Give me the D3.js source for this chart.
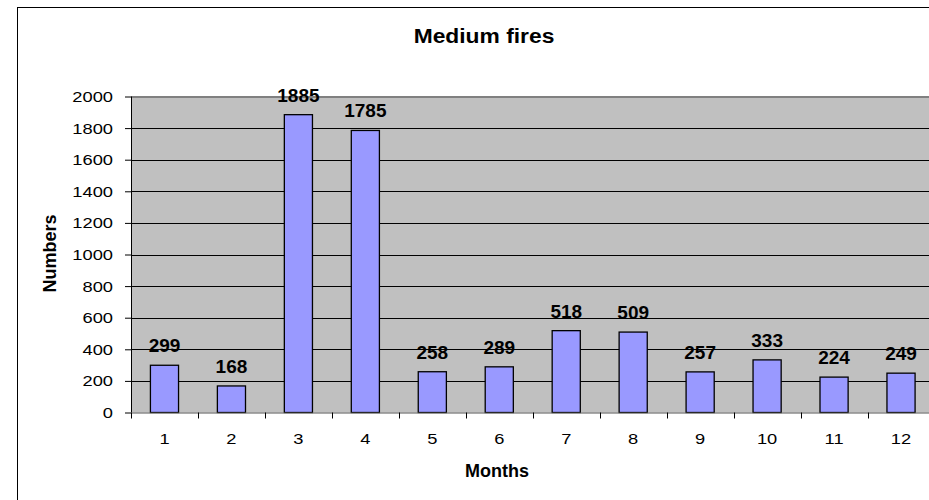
<!DOCTYPE html>
<html>
<head>
<meta charset="utf-8">
<script src="https://cdn.jsdelivr.net/npm/d3@7"></script>
<style>
  body { margin: 0; background: #fff; }
  text { font-family: "Liberation Sans", Arial, sans-serif; fill: #000; }
</style>
</head>
<body>
<div id="chart"></div>
<script>
/* data */
var months = ["1", "2", "3", "4", "5", "6", "7", "8", "9", "10", "11", "12"];
var fires = [299, 168, 1885, 1785, 258, 289, 518, 509, 257, 333, 224, 249];
var yTicks = [0, 200, 400, 600, 800, 1000, 1200, 1400, 1600, 1800, 2000];

var width = 929;
var height = 500;

var svg = d3.select("#chart").append("svg")
    .attr("width", width)
    .attr("height", height);

// chart area border (runs off the right and bottom of the picture)
svg.append("rect")
    .attr("x", 17.5)
    .attr("y", 7.5)
    .attr("width", 960)
    .attr("height", 520)
    .attr("fill", "#fff")
    .attr("stroke", "#000");

var plot = { left: 131, top: 96.5, right: 934.5, bottom: 412.5 };

var x = d3.scaleBand()
    .domain(months)
    .range([plot.left, plot.right])
    .paddingInner(0.58)
    .paddingOuter(0.29);

var xb = d3.scaleBand()
    .domain(months)
    .range([plot.left, plot.right]);

var y = d3.scaleLinear()
    .domain([0, 2000])
    .range([plot.bottom, plot.top]);

// gray plot area
svg.append("rect")
    .attr("x", plot.left)
    .attr("y", plot.top)
    .attr("width", plot.right - plot.left)
    .attr("height", plot.bottom - plot.top)
    .attr("fill", "#c0c0c0");

// gridlines
svg.append("g").selectAll("line")
    .data(yTicks.slice(1, -1))
    .enter().append("line")
    .attr("x1", plot.left)
    .attr("x2", plot.right)
    .attr("y1", function (d) { return Math.round(y(d)) + 0.5; })
    .attr("y2", function (d) { return Math.round(y(d)) + 0.5; })
    .attr("stroke", "#000");

svg.append("line")
    .attr("x1", plot.left).attr("x2", plot.right)
    .attr("y1", plot.top + 0.5).attr("y2", plot.top + 0.5)
    .attr("stroke", "#808080").attr("stroke-width", 2);

// bars
svg.append("g").selectAll("rect")
    .data(fires)
    .enter().append("rect")
    .attr("x", function (d, i) { return x(months[i]); })
    .attr("y", function (d) { return y(d); })
    .attr("width", x.bandwidth())
    .attr("height", function (d) { return plot.bottom - y(d); })
    .attr("fill", "#9999ff")
    .attr("stroke", "#000")
    .attr("stroke-width", 1.3);

// data labels
svg.append("g").selectAll("text")
    .data(fires)
    .enter().append("text")
    .attr("x", function (d, i) { return x(months[i]) + x.bandwidth() / 2; })
    .attr("y", function (d) { return y(d) - 13; })
    .attr("text-anchor", "middle")
    .style("font-size", "19px")
    .style("font-weight", "bold")
    .text(function (d) { return d; });

// y axis
var yAxis = svg.append("g")
    .attr("transform", "translate(" + plot.left + ",0)")
    .call(d3.axisLeft(y).tickValues(yTicks).tickFormat(d3.format("d")).tickSize(6));
yAxis.select(".domain").attr("stroke", "#000").attr("d", "M0.5," + plot.top + "V" + plot.bottom);
yAxis.selectAll(".tick line").attr("stroke", "#000");
yAxis.selectAll("text")
    .attr("x", 0)
    .attr("transform", "translate(-18,0) scale(1.18,1)")
    .style("font-size", "15.5px")
    .style("font-family", "Liberation Sans, Arial, sans-serif");

// x axis, ticks on the category boundaries
var xAxis = svg.append("g")
    .attr("transform", "translate(0," + plot.bottom + ")")
    .call(d3.axisBottom(xb).tickSize(0));
xAxis.select(".domain").attr("stroke", "#555").attr("d", "M" + plot.left + ",0.5H" + plot.right);
xAxis.selectAll("text")
    .attr("y", 31.5)
    .attr("dy", 0)
    .attr("transform", "scale(1.18,1)")
    .style("font-size", "15.5px")
    .style("font-family", "Liberation Sans, Arial, sans-serif");
xAxis.selectAll(".bound")
    .data(months)
    .enter().append("line")
    .attr("class", "bound")
    .attr("x1", function (d) { return Math.round(xb(d)) + 0.5; })
    .attr("x2", function (d) { return Math.round(xb(d)) + 0.5; })
    .attr("y1", 0)
    .attr("y2", 6)
    .attr("stroke", "#000");

// titles
svg.append("text")
    .attr("transform", "translate(484,43) scale(1.17,1)")
    .attr("text-anchor", "middle")
    .style("font-size", "19.5px")
    .style("font-weight", "bold")
    .text("Medium fires");

svg.append("text")
    .attr("x", 497)
    .attr("y", 477)
    .attr("text-anchor", "middle")
    .style("font-size", "18px")
    .style("font-weight", "bold")
    .text("Months");

svg.append("text")
    .attr("transform", "translate(56,253.5) rotate(-90)")
    .attr("text-anchor", "middle")
    .style("font-size", "18px")
    .style("font-weight", "bold")
    .text("Numbers");
</script>
</body>
</html>
